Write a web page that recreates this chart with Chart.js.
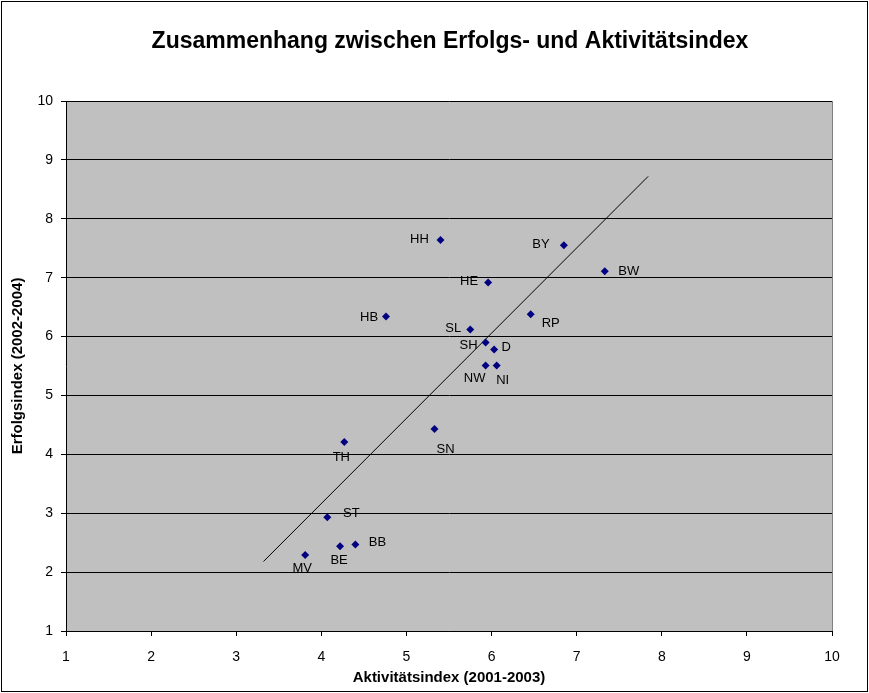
<!DOCTYPE html>
<html lang="de">
<head>
<meta charset="utf-8">
<title>Zusammenhang zwischen Erfolgs- und Aktivitätsindex</title>
<script src="https://cdn.jsdelivr.net/npm/chart.js@4/dist/chart.umd.min.js"></script>
<style>
  html, body { margin: 0; padding: 0; background: #fff; }
  canvas { display: block; }
</style>
</head>
<body>
<canvas id="chart" width="869" height="693"></canvas>
<script>
// Bundesländer (Kürzel)
const laender = ['HH', 'BY', 'BW', 'RP', 'HE', 'HB', 'SL', 'SH', 'D', 'NW', 'NI', 'SN', 'TH', 'ST', 'BE', 'BB', 'MV'];
// Aktivitätsindex (2001-2003)
const aktivitaet = [5.40, 6.85, 7.33, 6.46, 5.96, 4.76, 5.75, 5.93, 6.03, 5.93, 6.06, 5.33, 4.27, 4.07, 4.22, 4.40, 3.81];
// Erfolgsindex (2002-2004)
const erfolg = [7.64, 7.55, 7.11, 6.38, 6.92, 6.34, 6.12, 5.90, 5.78, 5.51, 5.51, 4.43, 4.21, 2.93, 2.44, 2.47, 2.29];
// Trendlinie (Anfang / Ende)
const trendX = [3.32, 7.84];
const trendY = [2.18, 8.72];
const achsenTicks = [1, 2, 3, 4, 5, 6, 7, 8, 9, 10];
const titel = 'Zusammenhang zwischen Erfolgs- und Aktivitätsindex';

const FONT = '"Liberation Sans", Arial, sans-serif';

// Lage der Beschriftung relativ zum Punkt (Mitte des Textes)
const labelOffset = {
  HH: [-21, -1], BY: [-23, -1], BW: [24, 0], RP: [20, 9], HE: [-19, -1],
  HB: [-17, 1], SL: [-17, -1], SH: [-17, 3], D: [12, -2], NW: [-11, 13],
  NI: [6, 15], SN: [11, 20], TH: [-3, 15], ST: [24, -4], BE: [-1, 14],
  BB: [22, -2], MV: [-3, 13]
};

const punkte = aktivitaet.map((x, i) => ({ x: x, y: erfolg[i] }));
const trend = trendX.map((x, i) => ({ x: x, y: trendY[i] }));

// Hintergrund, Rahmen und Titel
const rahmenPlugin = {
  id: 'rahmen',
  beforeDraw(chart) {
    const { ctx, chartArea: a, width, height } = chart;
    ctx.save();
    ctx.fillStyle = '#fff';
    ctx.fillRect(0, 0, width, height);
    ctx.strokeStyle = '#000';
    ctx.lineWidth = 1;
    ctx.strokeRect(1.5, 1.5, width - 3, height - 3);
    ctx.fillStyle = '#C0C0C0';
    ctx.fillRect(a.left, a.top, a.right - a.left, a.bottom - a.top);
    // Titel (Excel zentriert ihn über der Diagrammfläche)
    ctx.font = 'bold 23px ' + FONT;
    ctx.fillStyle = '#000';
    ctx.textAlign = 'center';
    ctx.textBaseline = 'middle';
    ctx.fillText(titel, 450, 42);
    ctx.restore();
  },
  afterDraw(chart) {
    const { ctx, chartArea: a } = chart;
    ctx.save();
    ctx.strokeStyle = '#808080';
    ctx.lineWidth = 1;
    ctx.beginPath();
    ctx.moveTo(Math.round(a.right) + 0.5, a.top);
    ctx.lineTo(Math.round(a.right) + 0.5, a.bottom);
    ctx.stroke();
    ctx.restore();
  }
};

const labelPlugin = {
  id: 'punktLabels',
  afterDatasetsDraw(chart) {
    const { ctx } = chart;
    const meta = chart.getDatasetMeta(1);
    ctx.save();
    ctx.font = '13px ' + FONT;
    ctx.fillStyle = '#000';
    ctx.textAlign = 'center';
    ctx.textBaseline = 'middle';
    meta.data.forEach((pt, i) => {
      const name = laender[i];
      const off = labelOffset[name] || [0, -12];
      ctx.fillText(name, pt.x + off[0], pt.y + off[1]);
    });
    ctx.restore();
  }
};

new Chart(document.getElementById('chart'), {
  type: 'scatter',
  data: {
    datasets: [
      {
        type: 'line', label: 'Trend', data: trend,
        borderColor: '#000', borderWidth: 1, pointRadius: 0, fill: false, order: 2
      },
      {
        label: 'Bundesländer', data: punkte,
        pointStyle: 'rectRot', pointRadius: 4, pointHoverRadius: 4,
        backgroundColor: '#000080', borderColor: '#000080', borderWidth: 0, order: 1
      }
    ]
  },
  options: {
    responsive: false,
    animation: false,
    devicePixelRatio: 1,
    layout: { padding: { left: 0, right: 37, top: 101, bottom: 0 } },
    plugins: {
      legend: { display: false },
      tooltip: { enabled: false },
      title: { display: false }
    },
    scales: {
      x: {
        type: 'linear', min: 1, max: 10,
        afterBuildTicks: s => { s.ticks = achsenTicks.map(v => ({ value: v })); },
        afterFit: s => { s.height = 62; },
        grid: { drawOnChartArea: false, drawTicks: true, tickLength: 5, color: '#000', tickColor: '#000' },
        border: { color: '#000', width: 1 },
        ticks: { color: '#000', font: { family: FONT, size: 14 }, padding: 13, maxRotation: 0 },
        title: {
          display: true, text: 'Aktivitätsindex (2001-2003)', color: '#000',
          font: { family: FONT, size: 15, weight: 'bold', lineHeight: 1.2 },
          padding: { top: 4, bottom: 6 }
        }
      },
      y: {
        type: 'linear', min: 1, max: 10,
        afterBuildTicks: s => { s.ticks = achsenTicks.map(v => ({ value: v })); },
        afterFit: s => { s.width = 66; },
        grid: { drawOnChartArea: true, drawTicks: true, tickLength: 5, color: '#000', tickColor: '#000' },
        border: { color: '#000', width: 1 },
        ticks: { color: '#000', font: { family: FONT, size: 14 }, padding: 8 },
        title: {
          display: true, text: 'Erfolgsindex (2002-2004)', color: '#000',
          font: { family: FONT, size: 15, weight: 'bold', lineHeight: 1.2 },
          padding: { top: 9, bottom: 4 }
        }
      }
    }
  },
  plugins: [rahmenPlugin, labelPlugin]
});
</script>
</body>
</html>
